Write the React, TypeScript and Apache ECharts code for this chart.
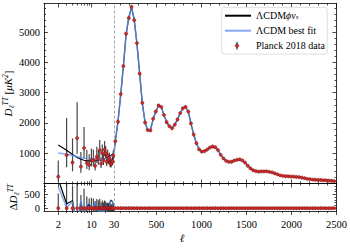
import React, { useEffect, useRef } from "react";
import * as echarts from "echarts";

// ---------------- data ----------------
const lowEll = [2, 3, 4, 5, 6, 7, 8, 9, 10, 11, 12, 13, 14, 15, 16, 17, 18, 19, 20, 21, 22, 23, 24, 25, 26, 27, 28, 29];
const lowData = [226, 937, 693, 1502, 559, 1169, 686, 615, 776, 770, 583, 885, 810, 1102, 659, 1008, 770, 1121, 1001, 714, 917, 786, 840, 659, 647, 696, 737, 931];
const lowErrLo = [132, 400, 290, 520, 200, 350, 210, 180, 210, 200, 150, 210, 190, 240, 150, 210, 160, 220, 190, 140, 170, 140, 150, 120, 115, 120, 125, 150];
const lowErrHi = [534, 1230, 800, 1180, 480, 700, 420, 350, 380, 350, 260, 330, 290, 340, 210, 280, 210, 280, 240, 170, 210, 180, 180, 140, 135, 140, 145, 170];

const modelLowEll = [2, 3, 4, 5, 6, 7, 8, 9, 10, 11, 12, 13, 14, 15, 16, 17, 18, 19, 20, 21, 22, 23, 24, 25, 26, 27, 28, 29, 30];
const modelPhiLow = [1270, 1100, 960, 860, 800, 768, 752, 746, 745, 748, 753, 760, 768, 777, 787, 798, 810, 822, 835, 849, 864, 880, 897, 915, 934, 952, 976, 1006, 1040];
const modelLcdmLow = [1010, 965, 925, 890, 862, 842, 826, 814, 805, 799, 795, 793, 793, 795, 798, 803, 809, 816, 825, 835, 846, 858, 872, 888, 906, 930, 960, 998, 1040];

const binEll = [
  44.5, 74.5, 104.5, 134.5, 164.5, 194.5, 224.5, 254.5, 284.5, 314.5,
  344.5, 374.5, 404.5, 434.5, 464.5, 494.5, 524.5, 554.5, 584.5, 614.5,
  644.5, 674.5, 704.5, 734.5, 764.5, 794.5, 824.5, 854.5, 884.5, 914.5,
  944.5, 974.5, 1004.5, 1034.5, 1064.5, 1094.5, 1124.5, 1154.5, 1184.5, 1214.5,
  1244.5, 1274.5, 1304.5, 1334.5, 1364.5, 1394.5, 1424.5, 1454.5, 1484.5, 1514.5,
  1544.5, 1574.5, 1604.5, 1634.5, 1664.5, 1694.5, 1724.5, 1754.5, 1784.5, 1814.5,
  1844.5, 1874.5, 1904.5, 1934.5, 1964.5, 1994.5, 2024.5, 2054.5, 2084.5, 2114.5,
  2144.5, 2174.5, 2204.5, 2234.5, 2264.5, 2294.5, 2324.5, 2354.5, 2384.5, 2414.5,
  2444.5, 2474.5,
];
const binData = [
  1395, 2040, 2955, 3880, 4950, 5470, 5840, 5400, 4640, 3630,
  2665, 2015, 1765, 1755, 2140, 2380, 2578, 2532, 2266, 2024,
  1896, 1825, 1944, 2116, 2324, 2486, 2534, 2377, 1984, 1617,
  1333, 1128, 1052, 1068, 1122, 1188, 1222, 1198, 1102, 948,
  832, 748, 717, 718, 757, 783, 797, 763, 692, 588,
  502, 438, 407, 393, 400, 400, 402, 386, 367, 333,
  302, 270, 254, 240, 238, 229, 228, 218, 212, 193,
  178, 155, 144, 129, 125, 116, 115, 106, 105, 95,
  90, 76,
];
const binErr = [
  56, 52, 50, 52, 56, 58, 60, 56, 48, 40,
  33, 28, 25, 24, 25, 26, 26, 25, 23, 21,
  20, 19, 20, 21, 21, 21, 21, 20, 18, 16,
  15, 14, 13, 13, 13, 13, 13, 13, 12, 11,
  11, 10, 10, 10, 10, 10, 10, 10, 9, 9,
  9, 9, 9, 9, 9, 9, 9, 9, 9, 9,
  9, 9, 9, 9, 9, 9, 9, 9, 9, 9,
  10, 10, 10, 10, 11, 11, 11, 12, 12, 13,
  14, 15,
];
const modelHighEll = [30, ...binEll, 2500];
const modelHigh = [
  1040,
  1380, 2060, 2930, 3900, 4930, 5490, 5820, 5420, 4620, 3650,
  2650, 2030, 1750, 1770, 2130, 2390, 2570, 2540, 2260, 2030,
  1890, 1830, 1940, 2120, 2320, 2490, 2530, 2380, 1980, 1620,
  1330, 1130, 1050, 1070, 1120, 1190, 1220, 1200, 1100, 950,
  830, 750, 715, 720, 755, 785, 795, 765, 690, 590,
  500, 440, 405, 395, 398, 402, 400, 388, 365, 335,
  300, 272, 252, 242, 236, 231, 226, 220, 210, 195,
  176, 157, 142, 131, 123, 118, 113, 108, 103, 97,
  88, 78,
  72,
];

// tick values / labels
const logTicksMajor = [2, 10];
const logTicksMinor = [3, 4, 5, 6, 7, 8, 9, 20];
const logTickLabels = [2, 10, 30];
const linTicksMajor = [500, 1000, 1500, 2000, 2500];
const linTicksMinor = [100, 200, 300, 400, 600, 700, 800, 900, 1100, 1200, 1300, 1400, 1600, 1700, 1800, 1900, 2100, 2200, 2300, 2400];
const linTickLabels = [500, 1000, 1500, 2000, 2500];
const topYMajor = [1000, 2000, 3000, 4000, 5000];
const topYMinor = [200, 400, 600, 800, 1200, 1400, 1600, 1800, 2200, 2400, 2600, 2800, 3200, 3400, 3600, 3800, 4200, 4400, 4600, 4800, 5200, 5400, 5600, 5800];
const topYLabels = [1000, 2000, 3000, 4000, 5000];
const resYMajor = [0, 500];
const resYMinor = [100, 200, 300, 400, 600, 700, 800];
const resYLabels = [0, 500];

const NAME_PHI = "ΛCDMϕνs";
const NAME_LCDM = "ΛCDM best fit";
const NAME_DATA = "Planck 2018 data";

// ---------------- styling ----------------
const FONT = '"Liberation Serif", "DejaVu Serif", serif';
const BLACK = "#000";
const BLUE = "rgba(100,149,237,0.8)";
const RED = "#cf2b2b";

const grids = [
  { left: 44, top: 3.5, width: 70, height: 180 },
  { left: 114, top: 3.5, width: 222.5, height: 180 },
  { left: 44, top: 183.5, width: 70, height: 27.5 },
  { left: 114, top: 183.5, width: 222.5, height: 27.5 },
];

const plainNum = (v: number) => String(v);

function xAx(g: number, isLog: boolean, position: string, ticks: number[], len: number, inside: boolean, showLine: boolean, labels?: number[]) {
  const base: any = isLog ? { type: "log", logBase: 10, min: 1, max: 30 } : { type: "value", min: 30, max: 2500 };
  return {
    ...base,
    gridIndex: g,
    position,
    axisLine: { show: showLine, onZero: false, lineStyle: { color: BLACK, width: 0.8 } },
    axisTick: { show: true, inside, length: len, customValues: ticks, lineStyle: { color: BLACK, width: 0.7 } },
    axisLabel: labels
      ? { show: true, customValues: labels, formatter: plainNum, margin: 8, fontFamily: FONT, fontSize: 10.5, color: BLACK }
      : { show: false },
    splitLine: { show: false },
    axisPointer: { show: false },
  };
}

function yAx(g: number, min: number, max: number, position: string, ticks: number[], len: number, showLine: boolean, labels?: number[], name?: any) {
  const o: any = {
    type: "value",
    gridIndex: g,
    min,
    max,
    position,
    axisLine: { show: showLine, onZero: false, lineStyle: { color: BLACK, width: 0.8 } },
    axisTick: { show: true, inside: true, length: len, customValues: ticks, lineStyle: { color: BLACK, width: 0.7 } },
    axisLabel: labels
      ? { show: true, customValues: labels, formatter: plainNum, margin: 4, fontFamily: FONT, fontSize: 10.5, color: BLACK }
      : { show: false },
    splitLine: { show: false },
  };
  if (name) Object.assign(o, name);
  return o;
}

const nameRich = {
  i: { fontFamily: FONT, fontStyle: "italic", fontSize: 11, lineHeight: 14, color: BLACK },
  n: { fontFamily: FONT, fontSize: 11, lineHeight: 14, color: BLACK },
  sub: { fontFamily: FONT, fontStyle: "italic", fontSize: 7.5, lineHeight: 6, verticalAlign: "bottom", color: BLACK },
  sup: { fontFamily: FONT, fontStyle: "italic", fontSize: 7.5, lineHeight: 6, verticalAlign: "top", color: BLACK },
};

function renderErr(width: number) {
  return (params: any, api: any) => {
    const x = api.value(0);
    const a = api.coord([x, api.value(1)]);
    const b = api.coord([x, api.value(2)]);
    const cs = params.coordSys;
    const top = cs.y;
    const bot = cs.y + cs.height;
    const c = (v: number) => Math.max(top, Math.min(bot, v));
    return {
      type: "line",
      silent: true,
      shape: { x1: a[0], y1: c(a[1]), x2: b[0], y2: c(b[1]) },
      style: { stroke: "rgba(0,0,0,0.72)", lineWidth: width },
    };
  };
}

function lineS(name: string, color: string, width: number, g: number, data: number[][], z: number, extra?: any) {
  return {
    type: "line",
    name,
    xAxisIndex: g * 4,
    yAxisIndex: g * 2,
    data,
    symbol: "none",
    showSymbol: false,
    clip: true,
    silent: true,
    lineStyle: { color, width },
    itemStyle: { color },
    z,
    ...(extra || {}),
  };
}

function errS(g: number, data: number[][], width: number) {
  return {
    type: "custom",
    xAxisIndex: g * 4,
    yAxisIndex: g * 2,
    data,
    encode: { x: 0, y: [1, 2] },
    renderItem: renderErr(width),
    silent: true,
    z: 2,
  };
}

function dotS(g: number, data: number[][]) {
  return {
    type: "scatter",
    name: NAME_DATA,
    xAxisIndex: g * 4,
    yAxisIndex: g * 2,
    data,
    symbolSize: 3.3,
    silent: true,
    itemStyle: { color: RED, borderColor: "#6b1010", borderWidth: 0.4, opacity: 1 },
    z: 5,
  };
}

const dashed = {
  silent: true,
  symbol: "none",
  label: { show: false },
  lineStyle: { color: "#999", type: [3, 2], width: 0.9 },
  data: [{ xAxis: 30 }],
};

function buildOption(): any {
  const xAxis: any[] = [];
  grids.forEach((_, g) => {
    const isLog = g === 0 || g === 2;
    const major = isLog ? logTicksMajor : linTicksMajor;
    const minor = isLog ? logTicksMinor : linTicksMinor;
    const bottomPanel = g >= 2;
    const labels = bottomPanel ? (isLog ? logTickLabels : linTickLabels) : undefined;
    xAxis.push(xAx(g, isLog, "bottom", major, 4, !bottomPanel, true, labels));
    xAxis.push(xAx(g, isLog, "bottom", minor, 2, !bottomPanel, false));
    xAxis.push(xAx(g, isLog, "top", major, 4, true, true));
    xAxis.push(xAx(g, isLog, "top", minor, 2, true, false));
  });

  const topName = {
    name: "{i|D}{sub|ℓ}{sup|TT}{n| [}{i|μK}{sup|2}{n|]}",
    nameLocation: "middle",
    nameRotate: 90,
    nameGap: 24,
    nameTextStyle: { rich: nameRich },
  };
  const resName = {
    name: "{n|Δ}{i|D}{sub|ℓ}{sup|TT}",
    nameLocation: "middle",
    nameRotate: 90,
    nameGap: 24,
    nameTextStyle: { rich: nameRich },
  };

  const yAxis: any[] = [
    yAx(0, 0, 5950, "left", topYMajor, 4, true, topYLabels, topName),
    yAx(0, 0, 5950, "left", topYMinor, 2, false),
    yAx(1, 0, 5950, "right", topYMajor, 4, true),
    yAx(1, 0, 5950, "right", topYMinor, 2, false),
    yAx(2, -100, 890, "left", resYMajor, 4, true, resYLabels, resName),
    yAx(2, -100, 890, "left", resYMinor, 2, false),
    yAx(3, -100, 890, "right", resYMajor, 4, true),
    yAx(3, -100, 890, "right", resYMinor, 2, false),
  ];

  const lowPhi = modelLowEll.map((l, i) => [l, modelPhiLow[i]]);
  const lowLcdm = modelLowEll.map((l, i) => [l, modelLcdmLow[i]]);
  const highModel = modelHighEll.map((l, i) => [l, modelHigh[i]]);
  const lowPts = lowEll.map((l, i) => [l, lowData[i]]);
  const lowErr = lowEll.map((l, i) => [l, lowData[i] - lowErrLo[i], lowData[i] + lowErrHi[i]]);
  const binPts = binEll.map((l, i) => [l, binData[i]]);
  const binErrs = binEll.map((l, i) => [l, binData[i] - binErr[i], binData[i] + binErr[i]]);

  const resLowPhi = lowEll.map((l, i) => [l, modelPhiLow[i] - lowData[i]]);
  const resLowLcdm = lowEll.map((l, i) => [l, modelLcdmLow[i] - lowData[i]]);
  const resHigh = binEll.map((l, i) => [l, modelHigh[i + 1] - binData[i]]);
  const resLowZero = lowEll.map((l) => [l, 0]);
  const resLowErr = lowEll.map((l, i) => [l, -lowErrLo[i], lowErrHi[i]]);
  const resBinZero = binEll.map((l) => [l, 0]);
  const resBinErr = binEll.map((l, i) => [l, -binErr[i], binErr[i]]);

  const series: any[] = [
    errS(0, lowErr, 1.2),
    lineS(NAME_PHI, BLACK, 1.2, 0, lowPhi, 3),
    lineS(NAME_LCDM, BLUE, 1.5, 0, lowLcdm, 4),
    dotS(0, lowPts),
    errS(1, binErrs, 0.8),
    lineS(NAME_PHI, BLACK, 1.2, 1, highModel, 3, { markLine: dashed }),
    lineS(NAME_LCDM, BLUE, 1.5, 1, highModel, 4),
    dotS(1, binPts),
    errS(2, resLowErr, 1.2),
    lineS(NAME_PHI, BLACK, 1.2, 2, resLowPhi, 3),
    lineS(NAME_LCDM, BLUE, 1.5, 2, resLowLcdm, 4),
    dotS(2, resLowZero),
    errS(3, resBinErr, 0.8),
    lineS(NAME_PHI, BLACK, 1.2, 3, resHigh, 3, { markLine: dashed }),
    lineS(NAME_LCDM, BLUE, 1.5, 3, resHigh, 4),
    dotS(3, resBinZero),
  ];

  const hidden = { color: "rgba(0,0,0,0)", borderWidth: 0, opacity: 0 };

  return {
    animation: false,
    backgroundColor: "#fff",
    grid: grids.map((g) => ({ ...g, containLabel: false })),
    xAxis,
    yAxis,
    series,
    legend: {
      orient: "vertical",
      left: 221.7,
      top: 7.3,
      padding: [3.4, 2.3, 3.4, 2.3],
      itemWidth: 26,
      itemHeight: 10,
      itemGap: 5,
      itemTextGap: 5,
      backgroundColor: "rgba(255,255,255,0.85)",
      borderColor: "#d6d6d6",
      borderWidth: 0.8,
      borderRadius: 3,
      selectedMode: false,
      z: 10,
      data: [
        { name: NAME_PHI, itemStyle: hidden },
        { name: NAME_LCDM, itemStyle: hidden },
        { name: NAME_DATA, icon: "circle", itemStyle: hidden },
      ],
      formatter: (n: string) => (n === NAME_PHI ? "{n|ΛCDM}{m|ϕν}{s|s}" : `{n|${n}}`),
      textStyle: {
        fontFamily: FONT,
        fontSize: 10,
        lineHeight: 10,
        color: BLACK,
        rich: {
          n: { fontFamily: FONT, fontSize: 10, lineHeight: 10, color: BLACK },
          m: { fontFamily: FONT, fontStyle: "italic", fontSize: 10, lineHeight: 10, color: BLACK },
          s: { fontFamily: FONT, fontStyle: "italic", fontSize: 7, lineHeight: 4, verticalAlign: "bottom", color: BLACK },
        },
      },
    },
    graphic: [
      { type: "line", z: 20, silent: true, shape: { x1: 237, y1: 42, x2: 237, y2: 49.5 }, style: { stroke: BLACK, lineWidth: 1 } },
      { type: "circle", z: 21, silent: true, shape: { cx: 237, cy: 45.7, r: 1.8 }, style: { fill: RED, stroke: "#6b1010", lineWidth: 0.4 } },
      {
        type: "text",
        z: 20,
        silent: true,
        x: 182,
        y: 238,
        style: { text: "ℓ", fontFamily: '"DejaVu Serif", serif', fontStyle: "italic", fontSize: 11, fill: BLACK, align: "center", verticalAlign: "middle" },
      },
    ],
  };
}

export default function App() {
  const ref = useRef<HTMLDivElement>(null);
  useEffect(() => {
    if (!ref.current) return;
    const chart = echarts.init(ref.current, undefined, { renderer: "svg" });
    chart.setOption(buildOption());
    return () => chart.dispose();
  }, []);
  return <div ref={ref} style={{ position: "absolute", left: 0, top: 0, width: 350, height: 248 }} />;
}
